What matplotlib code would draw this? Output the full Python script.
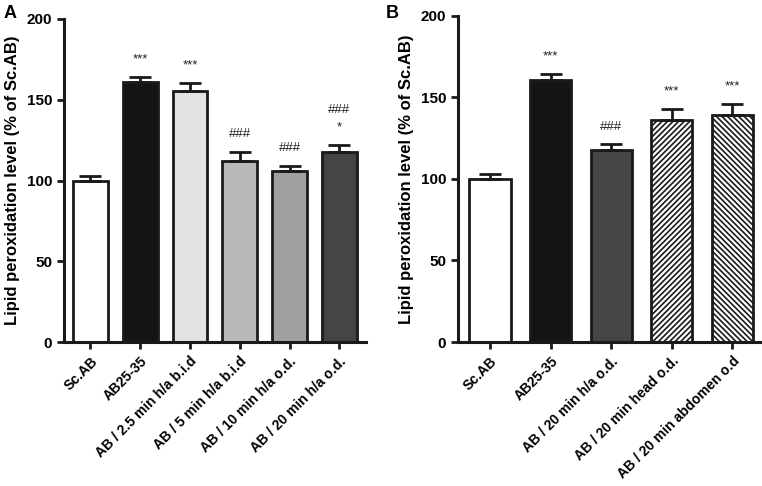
import matplotlib
matplotlib.use("Agg")
import matplotlib.pyplot as plt

plt.rcParams['font.family'] = ['Liberation Sans', 'DejaVu Sans']
plt.rcParams['hatch.linewidth'] = 1.2

# Panel A data
cats_a = ["Sc.AB", "AB25-35", "AB / 2.5 min h/a b.i.d", "AB / 5 min h/a b.i.d",
          "AB / 10 min h/a o.d.", "AB / 20 min h/a o.d."]
vals_a = [100, 160.8, 155.6, 112.3, 105.7, 117.5]
errs_a = [3.0, 3.5, 4.9, 5.5, 3.5, 4.7]
colors_a = ["#ffffff", "#141414", "#e2e2e2", "#b9b9b9", "#a0a0a0", "#454545"]
ann_a = ["", "***", "***", "###", "###", "###\n*"]

# Panel B data
cats_b = ["Sc.AB", "AB25-35", "AB / 20 min h/a o.d.", "AB / 20 min head o.d.",
          "AB / 20 min abdomen o.d"]
vals_b = [100, 160.7, 117.6, 136.0, 139.3]
errs_b = [3.1, 3.3, 3.7, 6.8, 6.5]
colors_b = ["#ffffff", "#141414", "#454545", "#ffffff", "#ffffff"]
hatch_b = [None, None, None, "//////", "\\\\\\\\\\\\"]
ann_b = ["", "***", "###", "***", "***"]

yticks = [0, 50, 100, 150, 200]

fig = plt.figure(figsize=(7.62, 4.86), dpi=100)
axA = fig.add_axes([0.084, 0.296, 0.396, 0.665])
axB = fig.add_axes([0.601, 0.296, 0.402, 0.672])


def draw(ax, cats, vals, errs, colors, anns, hatches, width):
    x = list(range(len(cats)))
    for i in x:
        ax.bar(i, vals[i], width=width, color=colors[i], edgecolor="#1a1a1a",
               linewidth=2.0, hatch=hatches[i] if hatches else None, zorder=2)
        ax.errorbar(i, vals[i], yerr=[[0], [errs[i]]], fmt="none",
                    ecolor="#1a1a1a", elinewidth=2.0, capsize=8, capthick=2.0,
                    zorder=3)
        if anns[i]:
            lines = anns[i].split("\n")
            y0 = vals[i] + errs[i] + 7
            for k, t in enumerate(reversed(lines)):
                ax.text(i, y0 + k * 11, t, ha="center", va="bottom",
                        fontsize=9.5, color="#222222")
    ax.set_xlim(-0.53, len(cats) - 0.47)
    ax.set_ylim(0, 200)
    ax.set_yticks(yticks)
    ax.set_yticklabels([str(t) for t in yticks], fontsize=11, fontweight="bold")
    ax.set_xticks(x)
    ax.set_xticklabels(cats, rotation=45, ha="right", rotation_mode="anchor",
                       fontsize=10, fontweight="bold")
    for s in ["top", "right"]:
        ax.spines[s].set_visible(False)
    for s in ["left", "bottom"]:
        ax.spines[s].set_linewidth(2.2)
        ax.spines[s].set_color("#1a1a1a")
    ax.tick_params(axis="both", width=2.0, length=5, color="#1a1a1a")
    ax.set_ylabel("Lipid peroxidation level (% of Sc.AB)", fontsize=12,
                  fontweight="bold", labelpad=5)


draw(axA, cats_a, vals_a, errs_a, colors_a, ann_a, None, 0.7)
draw(axB, cats_b, vals_b, errs_b, colors_b, ann_b, hatch_b, 0.68)

fig.text(0.005, 0.972, "A", fontsize=13, fontweight="bold", va="center")
fig.text(0.506, 0.972, "B", fontsize=13, fontweight="bold", va="center")

fig.savefig("out.png", dpi=100)
